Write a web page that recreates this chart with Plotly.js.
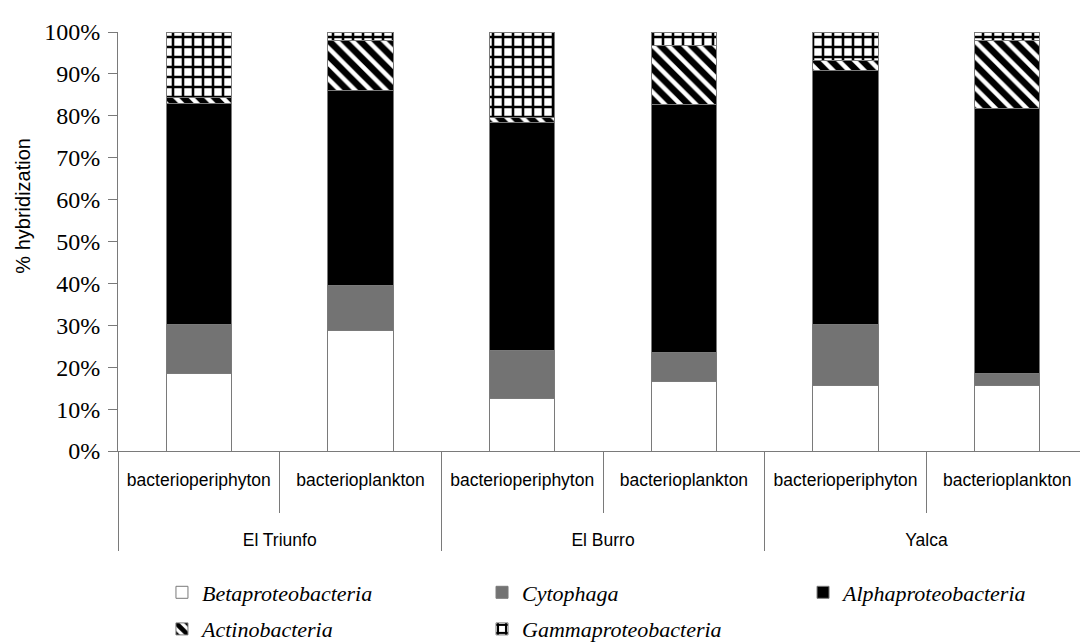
<!DOCTYPE html>
<html>
<head>
<meta charset="utf-8">
<script src="https://cdn.plot.ly/plotly-3.0.1.min.js"></script>
<style>html,body{margin:0;padding:0;background:#fff;}#chart{width:1080px;height:643px;}</style>
</head>
<body>
<div id="chart"></div>
<script>
// Data (percent of hybridization)
const sites = ['El Triunfo','El Triunfo','El Burro','El Burro','Yalca','Yalca'];
const habitats = ['bacterioperiphyton','bacterioplankton','bacterioperiphyton','bacterioplankton','bacterioperiphyton','bacterioplankton'];
const betaproteobacteria  = [18.4, 28.7, 12.5, 16.5, 15.6, 15.6];
const cytophaga           = [11.8, 10.8, 11.5,  7.1, 14.6,  2.8];
const alphaproteobacteria = [52.7, 46.5, 54.4, 59.2, 60.5, 63.3];
const actinobacteria      = [ 1.5, 11.9,  1.2, 13.9,  2.4, 16.3];
const gammaproteobacteria = [15.6,  2.1, 20.4,  3.3,  6.9,  2.0];
const yTickVals = [0,10,20,30,40,50,60,70,80,90,100];
const yTickText = ['0%','10%','20%','30%','40%','50%','60%','70%','80%','90%','100%'];

// unique category keys (site + habitat) and the site groups
const keys = sites.map((s, i) => s + ' | ' + habitats[i]);
const groupNames = sites.filter((s, i) => sites.indexOf(s) === i);

const xRange = [-0.5, 5.45];
const span = xRange[1] - xRange[0];
const perGroup = sites.length / groupNames.length;
const x2Range = [-0.5, -0.5 + span / perGroup];

const lineStyle = {color: '#7a7a7a', width: 1};
const bw = 0.405;

const traces = [
  {name: 'Betaproteobacteria', y: betaproteobacteria, legend: 'legend', legendgroup: 'a',
   marker: {color: '#ffffff', line: lineStyle}},
  {name: 'Cytophaga', y: cytophaga, legend: 'legend2', legendgroup: 'b',
   marker: {color: '#737373', line: lineStyle}},
  {name: 'Alphaproteobacteria', y: alphaproteobacteria, legend: 'legend3', legendgroup: 'c',
   marker: {color: '#000000', line: lineStyle}},
  {name: 'Actinobacteria', y: actinobacteria, legend: 'legend', legendgroup: 'd',
   marker: {color: '#ffffff', line: lineStyle,
            pattern: {shape: '\\', fgcolor: '#000000', bgcolor: '#ffffff', size: 11, solidity: 0.6, fillmode: 'replace'}}},
  {name: 'Gammaproteobacteria', y: gammaproteobacteria, legend: 'legend2', legendgroup: 'e',
   marker: {color: '#ffffff', line: lineStyle,
            pattern: {shape: '+', fgcolor: '#000000', bgcolor: '#ffffff', size: 10, solidity: 0.45, fillmode: 'replace'}}}
].map(t => Object.assign({type: 'bar', x: keys, width: bw, hoverinfo: 'skip'}, t));

// carrier for the site-level axis (draws nothing)
traces.push({type: 'scatter', mode: 'none', x: groupNames, y: groupNames.map(() => null),
             xaxis: 'x2', showlegend: false, hoverinfo: 'skip'});

const legFont = {family: 'Liberation Serif, Times New Roman, serif', size: 22, style: 'italic', color: '#000'};
function leg(xfrac) {
  return {orientation: 'v', xref: 'paper', yref: 'paper', x: xfrac, xanchor: 'left',
          y: -0.2876, yanchor: 'top', traceorder: 'grouped', tracegroupgap: 5,
          bgcolor: 'rgba(0,0,0,0)', font: legFont};
}

const layout = {
  width: 1080, height: 643,
  paper_bgcolor: '#ffffff', plot_bgcolor: '#ffffff',
  margin: {l: 118, r: 0, t: 32, b: 192, autoexpand: false},
  barmode: 'stack',
  showlegend: true,
  legend: leg(0.0457), legend2: leg(0.3784), legend3: leg(0.7121),
  xaxis: {
    type: 'category', range: xRange, automargin: false,
    tickmode: 'array', tickvals: keys, ticktext: habitats,
    showline: true, linecolor: '#7a7a7a', linewidth: 1,
    ticks: 'outside', tickson: 'boundaries', ticklen: 61, tickcolor: '#7a7a7a', tickwidth: 1,
    ticklabelstandoff: 13,
    showgrid: false, zeroline: false,
    tickfont: {family: 'Liberation Sans, Arial, sans-serif', size: 17.5, color: '#000'}
  },
  xaxis2: {
    type: 'category', range: x2Range, overlaying: 'x', anchor: 'y', side: 'bottom', automargin: false,
    showline: false,
    ticks: 'outside', tickson: 'boundaries', ticklen: 99, tickcolor: '#7a7a7a', tickwidth: 1,
    ticklabelstandoff: 76,
    showgrid: false, zeroline: false,
    tickfont: {family: 'Liberation Sans, Arial, sans-serif', size: 17.5, color: '#000'}
  },
  yaxis: {
    range: [0, 100], automargin: false,
    tickmode: 'array', tickvals: yTickVals, ticktext: yTickText,
    showline: true, linecolor: '#7a7a7a', linewidth: 1,
    ticks: 'outside', ticklen: 9, tickcolor: '#7a7a7a',
    ticklabelstandoff: 3,
    showgrid: false, zeroline: false,
    tickfont: {family: 'Liberation Serif, Times New Roman, serif', size: 24, color: '#000'}
  },
  annotations: [{
    text: '% hybridization', textangle: -90, showarrow: false,
    xref: 'paper', yref: 'paper', x: -0.099, y: 0.585, xanchor: 'center', yanchor: 'middle',
    font: {family: 'Liberation Sans, Arial, sans-serif', size: 20, color: '#000'}
  }]
};

Plotly.newPlot('chart', traces, layout, {displayModeBar: false, staticPlot: true});
</script>
</body>
</html>
